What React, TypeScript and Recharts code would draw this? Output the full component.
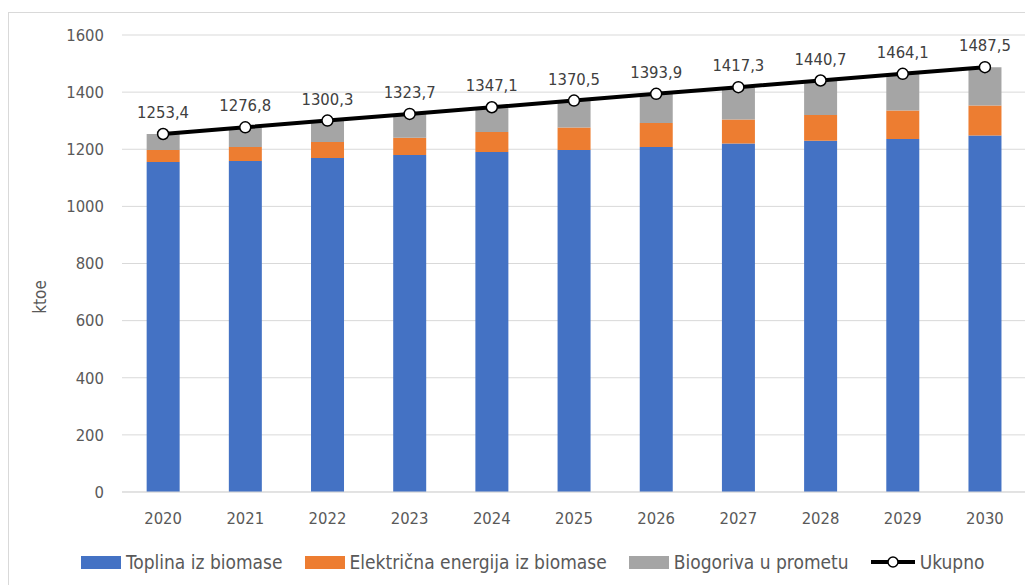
import React from 'react';
import { ComposedChart, Bar, Line, XAxis, YAxis, CartesianGrid, Legend, LabelList } from 'recharts';

const years = ['2020', '2021', '2022', '2023', '2024', '2025', '2026', '2027', '2028', '2029', '2030'];
const toplina = [1155, 1159, 1169, 1180, 1190, 1197, 1208, 1220, 1230, 1236, 1248];
const elektricna = [42, 49, 56, 60, 70, 79, 84, 84, 90, 100, 105];
const biogoriva = [56.4, 68.8, 75.3, 83.7, 87.1, 94.5, 101.9, 113.3, 120.7, 128.1, 134.5];
const ukupno = [1253.4, 1276.8, 1300.3, 1323.7, 1347.1, 1370.5, 1393.9, 1417.3, 1440.7, 1464.1, 1487.5];
const yTicks = [0, 200, 400, 600, 800, 1000, 1200, 1400, 1600];

const chartData = years.map((year, i) => ({
  year,
  toplina: toplina[i],
  elektricna: elektricna[i],
  biogoriva: biogoriva[i],
  ukupno: ukupno[i],
}));

const FONT = "'DejaVu Sans Condensed', 'DejaVu Sans', sans-serif";
const textColor = '#595959';

const legendItems = [
  { label: 'Toplina iz biomase', color: '#4472C4', type: 'rect' },
  { label: 'Električna energija iz biomase', color: '#ED7D31', type: 'rect' },
  { label: 'Biogoriva u prometu', color: '#A5A5A5', type: 'rect' },
  { label: 'Ukupno', color: '#000000', type: 'line' },
];

const renderLegend = () => (
  <div
    style={{
      boxSizing: 'border-box',
      height: 53,
      display: 'flex',
      alignItems: 'flex-start',
      paddingLeft: 72,
      paddingTop: 20,
      fontFamily: FONT,
      fontSize: 19,
      lineHeight: '20px',
      color: textColor,
    }}
  >
    {legendItems.map((item) => (
      <div key={item.label} style={{ display: 'flex', alignItems: 'center', marginRight: 22 }}>
        {item.type === 'rect' ? (
          <span style={{ display: 'inline-block', width: 40, height: 13, background: item.color, marginRight: 5 }} />
        ) : (
          <svg width={44} height={14} style={{ marginRight: 5 }}>
            <line x1={0} y1={7} x2={44} y2={7} stroke="#000" strokeWidth={4} />
            <circle cx={22} cy={7} r={5} fill="#fff" stroke="#000" strokeWidth={1.5} />
          </svg>
        )}
        <span>{item.label}</span>
      </div>
    ))}
  </div>
);

const renderYLabel = () => (
  <text x={31} y={284} transform="rotate(-90 31 284)" textAnchor="middle" dominantBaseline="central" fill={textColor} fontSize={17} fontFamily={FONT}>
    ktoe
  </text>
);

const App: React.FC = () => {
  return (
    <div style={{ marginTop: 4, width: 1024, height: 572, borderLeft: '1px solid #d9d9d9', borderTop: '1px solid #d9d9d9', background: '#fff' }}>
      <ComposedChart
        width={1024}
        height={572}
        data={chartData}
        margin={{ top: 22, right: 7, bottom: 0, left: 0 }}
        barCategoryGap="30%"
      >
        <CartesianGrid vertical={false} stroke="#d9d9d9" />
        <XAxis
          dataKey="year"
          height={40}
          tick={{ fill: textColor, fontSize: 16.5, fontFamily: FONT }}
          tickLine={false}
          axisLine={{ stroke: '#d9d9d9' }}
          tickMargin={14}
        />
        <YAxis
          width={113}
          domain={[0, 1600]}
          ticks={yTicks}
          tick={{ fill: textColor, fontSize: 16.5, fontFamily: FONT }}
          tickLine={false}
          axisLine={false}
          tickMargin={12}
          label={{ content: renderYLabel }}
        />
        <Legend verticalAlign="bottom" align="left" content={renderLegend} />
        <Bar dataKey="toplina" stackId="a" fill="#4472C4" isAnimationActive={false} />
        <Bar dataKey="elektricna" stackId="a" fill="#ED7D31" isAnimationActive={false} />
        <Bar dataKey="biogoriva" stackId="a" fill="#A5A5A5" isAnimationActive={false} />
        <Line
          dataKey="ukupno"
          stroke="#000"
          strokeWidth={4}
          dot={{ r: 5.5, fill: '#fff', stroke: '#000', strokeWidth: 1.5 }}
          isAnimationActive={false}
        >
          <LabelList
            dataKey="ukupno"
            position="top"
            offset={16}
            formatter={(v: any) => String(v).replace('.', ',')}
            style={{ fill: '#404040', fontSize: 16.5, fontFamily: FONT }}
          />
        </Line>
      </ComposedChart>
    </div>
  );
};

export default App;
